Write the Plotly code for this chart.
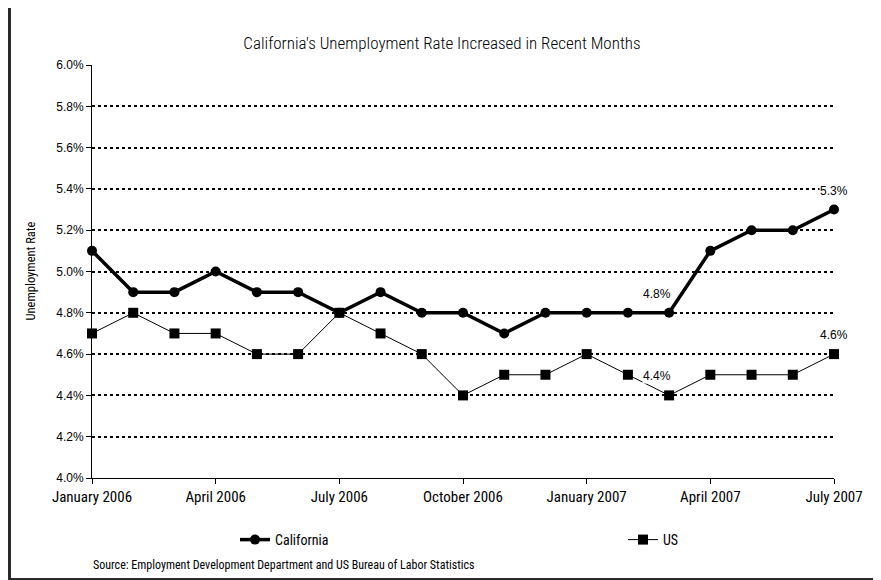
import plotly.graph_objects as go

months = ["Jan 2006", "Feb 2006", "Mar 2006", "Apr 2006", "May 2006", "Jun 2006",
          "Jul 2006", "Aug 2006", "Sep 2006", "Oct 2006", "Nov 2006", "Dec 2006",
          "Jan 2007", "Feb 2007", "Mar 2007", "Apr 2007", "May 2007", "Jun 2007", "Jul 2007"]
california = [5.1, 4.9, 4.9, 5.0, 4.9, 4.9, 4.8, 4.9, 4.8, 4.8, 4.7, 4.8,
              4.8, 4.8, 4.8, 5.1, 5.2, 5.2, 5.3]
us = [4.7, 4.8, 4.7, 4.7, 4.6, 4.6, 4.8, 4.7, 4.6, 4.4, 4.5, 4.5,
      4.6, 4.5, 4.4, 4.5, 4.5, 4.5, 4.6]
tick_months = ["Jan 2006", "Apr 2006", "Jul 2006", "Oct 2006", "Jan 2007", "Apr 2007", "Jul 2007"]
tick_labels = ["January 2006", "April 2006", "July 2006", "October 2006",
               "January 2007", "April 2007", "July 2007"]
y_ticks = [4.0, 4.2, 4.4, 4.6, 4.8, 5.0, 5.2, 5.4, 5.6, 5.8, 6.0]
ca_labels = [14, 18]
us_labels = [14, 18]

NARROW = ("Roboto Condensed, Liberation Sans Narrow, Noto Sans Condensed, "
          "Open Sans Condensed, Arial Narrow, Liberation Sans, sans-serif")
REG = "Liberation Sans, Arial, sans-serif"

fig = go.Figure()
fig.add_trace(go.Scatter(
    x=months, y=california, name="California", mode="lines+markers",
    line=dict(color="black", width=3.5),
    marker=dict(symbol="circle", size=10, color="black"),
    cliponaxis=False, legend="legend",
))
fig.add_trace(go.Scatter(
    x=months, y=us, name="US", mode="lines+markers",
    line=dict(color="black", width=1),
    marker=dict(symbol="square", size=10, color="black"),
    cliponaxis=False, legend="legend2",
))

annotations = []
for i in ca_labels:
    annotations.append(dict(x=months[i], y=california[i], text=f"{california[i]:.1f}%",
                            showarrow=False, yshift=19, xshift=-12 if i != 18 else 0,
                            bgcolor="white", borderpad=0,
                            font=dict(family=REG, size=12, color="black")))
for i in us_labels:
    annotations.append(dict(x=months[i], y=us[i], text=f"{us[i]:.1f}%",
                            showarrow=False, yshift=19, xshift=-12 if i != 18 else 0,
                            bgcolor="white", borderpad=0,
                            font=dict(family=REG, size=12, color="black")))
annotations.append(dict(xref="paper", yref="paper", x=(30 - 92) / 742, y=0.5,
                        xanchor="center", yanchor="middle",
                        text="Unemployment Rate", textangle=-90, showarrow=False,
                        font=dict(family=NARROW, size=12.5, color="black")))
annotations.append(dict(xref="paper", yref="paper", x=(91 - 92) / 742, y=(478 - 565) / 413,
                        xanchor="left", yanchor="middle", showarrow=False,
                        text="Source: Employment Development Department and US Bureau of Labor Statistics",
                        font=dict(family=NARROW, size=12, color="black")))

fig.update_layout(
    width=873, height=572,
    margin=dict(l=84, r=47, t=57, b=102),
    paper_bgcolor="white", plot_bgcolor="white",
    showlegend=True,
    title=dict(text="California's Unemployment Rate Increased in Recent Months",
               x=(442 - 8) / 873, xref="container", y=1 - 35 / 572, yref="container",
               xanchor="center", yanchor="middle",
               font=dict(family=NARROW, size=17, color="black", weight=300)),
    xaxis=dict(range=[0, 18], tickmode="array", tickvals=tick_months, ticktext=tick_labels,
               showline=True, linecolor="black", linewidth=1, showgrid=False, zeroline=False,
               ticks="outside", ticklen=5, tickcolor="black",
               tickfont=dict(family=NARROW, size=15, color="black")),
    yaxis=dict(range=[4.0, 6.0], tickmode="array", tickvals=y_ticks,
               ticktext=[f"{v:.1f}%" for v in y_ticks],
               showline=True, linecolor="black", linewidth=1, zeroline=False,
               showgrid=True, gridcolor="black", gridwidth=2, griddash="dot",
               ticks="outside", ticklen=5, tickcolor="black",
               tickfont=dict(family=REG, size=12, color="black")),
    legend=dict(x=(235 - 92) / 742, y=(478 - 540) / 413, xanchor="left", yanchor="middle",
                orientation="h", itemwidth=30, bgcolor="rgba(0,0,0,0)",
                font=dict(family=NARROW, size=14, color="black")),
    legend2=dict(x=(623 - 92) / 742, y=(478 - 540) / 413, xanchor="left", yanchor="middle",
                 orientation="h", itemwidth=30, bgcolor="rgba(0,0,0,0)",
                 font=dict(family=NARROW, size=14, color="black")),
    annotations=annotations,
    shapes=[dict(type="rect", xref="paper", yref="paper",
                 x0=(9.5 - 92) / 742, x1=(880 - 92) / 742,
                 y0=(478 - 579.5) / 413, y1=(478 - 5.5) / 413,
                 line=dict(color="#2a2a2a", width=3), fillcolor="rgba(0,0,0,0)")],
)

fig.write_html("out.html")
